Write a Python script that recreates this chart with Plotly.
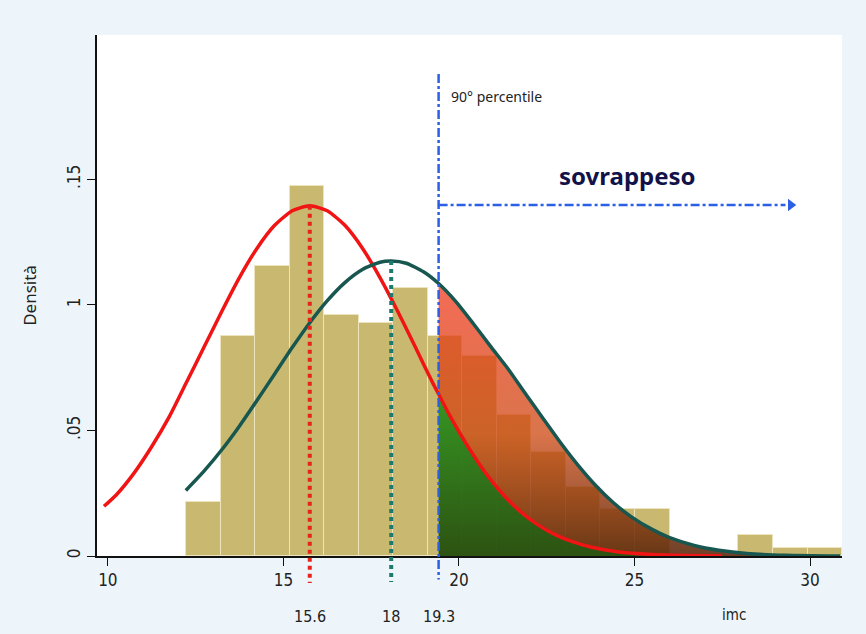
import plotly.graph_objects as go

# ---------------- data ----------------
bin_edges = [12.23, 13.21, 14.20, 15.18, 16.16, 17.15, 18.13, 19.11, 20.10, 21.08,
             22.06, 23.05, 24.03, 25.01, 26.00, 26.98, 27.96, 28.95, 29.93, 30.91]
densities = [0.0215, 0.0877, 0.1157, 0.1475, 0.0961, 0.0928, 0.1068, 0.0877, 0.0796,
             0.0560, 0.0416, 0.0276, 0.0188, 0.0188, 0.0, 0.0, 0.0083, 0.0031, 0.0031]

red_x = [9.89, 10.25, 10.75, 11.25, 11.75, 12.25, 12.75, 13.25, 13.75, 14.25, 14.75,
         15.25, 15.75, 16.25, 16.75, 17.25, 17.75, 18.25, 18.75, 19.25, 19.42, 19.75,
         20.25, 20.75, 21.25, 21.75, 22.25, 22.75, 23.25, 23.75, 24.5, 25.5, 26.5, 27.48]
red_y = [0.0198, 0.0245, 0.0331, 0.0436, 0.0555, 0.0695, 0.0835, 0.0976, 0.1110, 0.1226, 0.1317,
         0.1375, 0.1395, 0.1375, 0.1317, 0.1226, 0.1109, 0.0976, 0.0834, 0.0690, 0.0645, 0.0556,
         0.0437, 0.0332, 0.0246, 0.0177, 0.0124, 0.0084, 0.0056, 0.0036, 0.0017, 0.0006, 0.0002, 0.0]

teal_x = [12.22, 12.75, 13.25, 13.75, 14.25, 14.75, 15.25, 15.75, 16.25, 16.75, 17.25,
          17.75, 18.07, 18.5, 19.0, 19.42, 19.9, 20.4, 20.9, 21.4, 21.9, 22.4, 22.9,
          23.4, 23.9, 24.4, 24.9, 25.5, 26.0, 26.7, 27.4, 28.2, 29.3, 30.86]
teal_y = [0.0261, 0.0340, 0.0424, 0.0518, 0.0620, 0.0725, 0.0830, 0.0929, 0.1017, 0.1089, 0.1141,
          0.1170, 0.1175, 0.1166, 0.1131, 0.1085, 0.1015, 0.0927, 0.0835, 0.0745, 0.0645, 0.0547, 0.0450,
          0.0360, 0.0280, 0.0212, 0.0157, 0.0106, 0.0073, 0.0042, 0.0023, 0.0010, 0.0003, 0.0]

red_peak_x, red_peak_y = 15.75, 0.1395
teal_peak_x, teal_peak_y = 18.07, 0.1175
cut_x = 19.42
mark_labels = ["15.6", "18", "19.3"]
x_ticks = [10, 15, 20, 25, 30]
y_ticks = [0, 0.05, 0.10, 0.15]
y_ticktext = ["0", ".05", "1", ".15"]

X_RANGE = [9.69, 30.91]
Y_MAX = 0.2075

FONT_AX = "Liberation Sans Narrow, DejaVu Sans Condensed, Liberation Sans, sans-serif"
FONT_TX = "Noto Sans, DejaVu Sans, sans-serif"
BLUE = "#2a5fe6"
BG = "#eef5fa"

centers = [(a + b) / 2 for a, b in zip(bin_edges[:-1], bin_edges[1:])]
widths = [b - a for a, b in zip(bin_edges[:-1], bin_edges[1:])]

rs = [(x, y) for x, y in zip(red_x, red_y) if x >= cut_x]
ts = [(x, y) for x, y in zip(teal_x, teal_y) if x >= cut_x]

SM = 0.6

fig = go.Figure()
fig.add_trace(go.Bar(x=centers, y=densities, width=widths,
                     marker=dict(color="#c9b86f", line=dict(color="#ede4bd", width=1)),
                     showlegend=False, hoverinfo="skip"))

# green area under red curve beyond the percentile
fig.add_trace(go.Scatter(x=[p[0] for p in rs], y=[p[1] for p in rs], mode="lines",
                         line=dict(width=0, shape="spline", smoothing=SM), fill="tozeroy",
                         fillgradient=dict(type="vertical", start=0, stop=0.065,
                                           colorscale=[[0, "rgba(38,78,14,0.96)"],
                                                       [1, "rgba(48,150,32,0.96)"]]),
                         showlegend=False, hoverinfo="skip"))
# red area between the two curves beyond the percentile
fig.add_trace(go.Scatter(x=[p[0] for p in rs], y=[p[1] for p in rs], mode="lines",
                         line=dict(width=0, shape="spline", smoothing=SM),
                         showlegend=False, hoverinfo="skip"))
fig.add_trace(go.Scatter(x=[p[0] for p in ts], y=[p[1] for p in ts], mode="lines",
                         line=dict(width=0, shape="spline", smoothing=SM), fill="tonexty",
                         fillgradient=dict(type="vertical", start=0, stop=0.108,
                                           colorscale=[[0, "rgba(90,38,10,0.88)"],
                                                       [0.45, "rgba(205,70,15,0.75)"],
                                                       [1, "rgba(240,55,25,0.74)"]]),
                         showlegend=False, hoverinfo="skip"))

fig.add_trace(go.Scatter(x=red_x, y=red_y, mode="lines",
                         line=dict(color="#f01414", width=3.5, shape="spline", smoothing=SM),
                         showlegend=False, hoverinfo="skip"))
fig.add_trace(go.Scatter(x=teal_x, y=teal_y, mode="lines",
                         line=dict(color="#17574f", width=3.5, shape="spline", smoothing=SM),
                         showlegend=False, hoverinfo="skip"))

arrow_y = 0.1398
arrow_end = 29.3
fig.add_trace(go.Scatter(x=[arrow_end + 0.15], y=[arrow_y], mode="markers",
                         marker=dict(symbol="triangle-right", size=11, color=BLUE),
                         cliponaxis=False, showlegend=False, hoverinfo="skip"))

shapes = [
    dict(type="line", xref="x", yref="paper", x0=red_peak_x, x1=red_peak_x,
         y0=red_peak_y / Y_MAX, y1=-0.052, line=dict(color="#e8241a", width=4, dash="dot")),
    dict(type="line", xref="x", yref="paper", x0=teal_peak_x, x1=teal_peak_x,
         y0=teal_peak_y / Y_MAX, y1=-0.05, line=dict(color="#1d7a6c", width=4, dash="dot")),
    dict(type="line", xref="x", yref="paper", x0=cut_x, x1=cut_x,
         y0=0.925, y1=-0.045, line=dict(color=BLUE, width=2.5, dash="dashdot")),
    dict(type="line", xref="x", yref="y", x0=cut_x, x1=arrow_end,
         y0=arrow_y, y1=arrow_y, line=dict(color=BLUE, width=2.5, dash="dashdot")),
]

annotations = [
    dict(x=cut_x + 0.3, y=0.882, xref="x", yref="paper", text="90° percentile",
         showarrow=False, xanchor="left", yanchor="middle",
         font=dict(family=FONT_TX, size=14, color="#222")),
    dict(x=24.8, y=0.731, xref="x", yref="paper", text="<b>sovrappeso</b>",
         showarrow=False, yanchor="middle", font=dict(family=FONT_TX, size=24, color="#12124a")),
    dict(x=0.874, y=-0.113, xref="paper", yref="paper", text="imc", yanchor="middle",
         showarrow=False, font=dict(family=FONT_AX, size=15, color="#222")),
]
for xv, lab in zip([red_peak_x, teal_peak_x, cut_x], mark_labels):
    annotations.append(dict(x=xv, y=-0.117, xref="x", yref="paper", text=lab, yanchor="middle",
                            showarrow=False, font=dict(family=FONT_AX, size=16, color="#222")))

fig.update_layout(
    width=866, height=634,
    margin=dict(l=97, r=24, t=35, b=78),
    paper_bgcolor=BG, plot_bgcolor="white",
    bargap=0, shapes=shapes, annotations=annotations,
    xaxis=dict(range=X_RANGE, tickvals=x_ticks, ticks="outside", ticklen=8, tickcolor="#111",
               showline=True, linecolor="#111", linewidth=1.5, showgrid=False, zeroline=False,
               tickfont=dict(family=FONT_AX, size=17, color="#222")),
    yaxis=dict(range=[0, Y_MAX], tickvals=y_ticks, ticktext=y_ticktext, ticks="outside",
               ticklen=8, tickcolor="#111", tickangle=-90,
               showline=True, linecolor="#111", linewidth=1.5, showgrid=False, zeroline=False,
               tickfont=dict(family=FONT_AX, size=17, color="#222"),
               title=dict(text="Densità", standoff=24,
                          font=dict(family=FONT_TX, size=17, color="#222"))),
)

fig.write_html("out.html", config={"displayModeBar": False},
               post_script="document.body.style.margin='0';document.body.style.background='%s';" % BG)
